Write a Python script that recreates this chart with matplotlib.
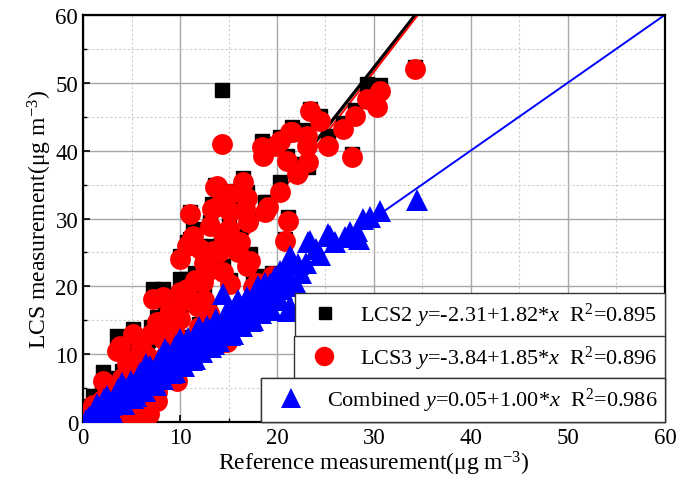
import matplotlib
matplotlib.use("Agg")
import matplotlib.pyplot as plt
from matplotlib.lines import Line2D
import numpy as np

plt.rcParams['font.family'] = 'Liberation Serif'
plt.rcParams['mathtext.fontset'] = 'custom'
plt.rcParams['mathtext.rm'] = 'Liberation Serif'
plt.rcParams['mathtext.it'] = 'Liberation Serif:italic'

# reference value, LCS3 and LCS2 readings (paired)
ref_x = [34.2, 30.6, 29.3, 30.3, 28.0, 26.8, 24.4, 23.4, 25.3, 27.7, 23.1, 23.1, 23.2, 22.2, 22.1,
         21.5, 21.3, 21.0, 20.3, 19.8, 18.5, 18.6, 14.3, 20.3, 21.1, 20.8, 16.5, 15.2, 16.9, 13.6,
         13.8, 16.7, 15.2, 13.3, 13.9, 19.1, 18.8, 11.0, 11.3, 13.1, 14.4, 15.9, 16.2, 13.4, 10.7,
         12.1, 11.0, 16.9, 17.2, 17.5, 17.9, 19.5, 15.2, 13.1, 14.4, 10.7, 10.0, 10.0, 12.4, 11.8,
         10.0, 7.2, 8.2, 7.6, 5.2, 8.2, 6.6, 3.8, 3.5, 4.8, 2.1, 2.5, 1.0, 0.7, 9.7,
         9.5, 7.6, 7.6, 5.2, 3.5, 5.9, 14.8, 14.4, 1.5, 2.0, 3.0, 4.0, 4.5, 5.5, 6.0,
         7.0, 8.5, 9.0, 10.5, 11.5, 12.5, 14.0, 14.5, 15.0, 17.0, 9.0, 8.0, 6.0, 5.0, 4.0,
         3.0, 6.5, 4.5, 8.5, 11.0, 12.0, 13.0, 12.5, 9.5, 7.9, 16.0, 4.2, 6.8]
lcs3_y = [52.0, 48.8, 47.6, 46.4, 45.1, 43.2, 44.4, 45.9, 40.7, 39.1, 42.2, 40.7, 38.3, 36.9, 36.6,
          42.8, 42.8, 38.5, 41.4, 40.7, 40.5, 39.2, 41.0, 33.9, 29.6, 26.7, 35.4, 33.6, 33.0, 34.6,
          34.8, 31.4, 31.0, 31.4, 31.8, 31.7, 31.0, 30.7, 27.4, 28.9, 27.7, 26.0, 26.5, 25.2, 26.0,
          25.5, 26.5, 23.0, 23.8, 19.9, 20.5, 21.5, 20.3, 22.6, 22.1, 19.6, 24.0, 19.2, 20.6, 17.1,
          15.2, 18.1, 18.5, 14.7, 13.0, 12.2, 9.7, 11.2, 10.5, 7.8, 6.0, 5.3, 2.5, 1.5, 6.0,
          6.3, 4.4, 3.1, 1.5, 0.9, 0.4, 11.8, 11.8, 2.5, 3.2, 4.5, 6.5, 8.5, 9.5, 11.0,
          13.0, 15.0, 16.5, 18.0, 21.0, 23.5, 25.0, 26.5, 28.5, 29.5, 10.0, 8.0, 5.0, 4.0, 3.0,
          2.0, 2.0, 0.5, 7.0, 12.0, 14.0, 16.0, 18.0, 13.0, 6.8, 25.0, 0.8, 1.2]
lcs2_y = [52.3, 49.7, 49.8, 47.5, 46.0, 44.1, 45.1, 46.2, 42.2, 39.5, 43.0, 41.0, 37.6, 37.5, 38.0,
          43.5, 42.5, 39.2, 42.0, 41.0, 41.4, 39.5, 48.9, 35.4, 30.3, 27.0, 36.0, 34.0, 33.9, 35.0,
          34.5, 32.0, 31.5, 32.2, 32.6, 32.4, 32.4, 31.0, 28.5, 29.5, 28.0, 26.2, 27.4, 26.0, 26.5,
          26.0, 27.0, 24.0, 24.8, 21.5, 21.5, 22.0, 21.0, 23.5, 23.0, 21.1, 24.5, 21.1, 21.0, 18.0,
          16.5, 19.6, 19.6, 15.5, 13.7, 13.0, 12.2, 12.5, 12.7, 9.0, 7.4, 6.5, 3.8, 2.4, 6.4,
          6.7, 4.8, 3.5, 1.9, 1.3, 0.8, 12.3, 12.3, 3.5, 4.5, 5.5, 7.5, 9.5, 10.5, 12.0,
          14.0, 16.0, 17.0, 19.5, 22.0, 24.5, 26.0, 27.5, 29.0, 30.0, 10.5, 8.5, 5.4, 4.4, 3.4,
          2.4, 2.4, 0.9, 7.4, 12.5, 14.5, 16.5, 19.0, 14.5, 7.2, 26.0, 1.2, 1.6]

# combined (calibrated) data
comb_x = [34.4, 30.6, 29.6, 28.9, 28.2, 27.0, 25.5, 25.3, 24.4, 23.4, 23.2, 22.2, 21.5, 21.3, 20.3,
          22.1, 19.3, 21.3, 21.1, 14.4,
          0.3, 0.6, 1.0, 1.2, 1.5, 1.8, 2.0, 2.3, 2.6, 2.9, 3.2, 3.5, 3.8, 4.1, 4.4,
          4.7, 5.0, 5.3, 5.6, 6.0, 6.3, 6.6, 7.0, 7.3, 7.6, 8.0, 8.3, 8.7, 9.0, 9.4,
          9.8, 10.2, 10.6, 11.0, 11.4, 11.8, 12.2, 12.6, 13.0, 13.4, 13.8, 14.2, 14.6, 15.0, 15.4,
          15.8, 16.2, 16.6, 17.0, 17.5, 18.0, 18.5, 19.0, 19.5, 20.0, 20.5, 21.0, 4.0, 6.5, 8.5,
          10.0, 12.0, 2.5, 5.5, 7.5, 9.5, 11.5, 13.5, 15.5, 17.5, 19.5, 3.0, 16.0, 18.0,
          0.8, 1.4, 2.2, 2.8, 3.6, 4.2, 4.9, 5.2, 5.9, 6.4, 6.9, 7.2, 7.8, 8.2, 8.8,
          9.2, 9.6, 10.4, 10.8, 11.2, 11.7, 12.3, 12.8, 13.2, 13.7, 14.0, 14.8, 15.2, 15.7, 16.4,
          16.9, 17.3, 17.8, 18.3, 18.8, 19.2, 19.8, 20.3, 20.7, 21.5, 22.5, 23.0, 24.0, 26.0, 27.5,
          28.5]
comb_y = [32.8, 31.1, 30.3, 29.9, 28.2, 27.3, 27.4, 27.7, 24.6, 26.7, 26.5, 23.3, 24.0, 24.5, 22.3,
          20.0, 20.3, 17.1, 16.4, 18.9,
          0.3, 0.8, 1.2, 0.7, 1.8, 1.4, 2.4, 1.9, 2.9, 2.5, 3.6, 3.0, 4.2, 3.7, 4.9,
          4.3, 5.5, 4.8, 6.2, 5.4, 6.8, 6.0, 7.5, 6.8, 8.2, 7.3, 8.9, 8.0, 9.6, 8.6,
          10.3, 9.5, 11.2, 10.2, 12.0, 11.0, 12.8, 11.8, 13.5, 12.6, 14.4, 13.4, 15.0, 14.2, 15.9,
          15.0, 16.7, 15.8, 17.6, 16.8, 18.4, 17.7, 19.2, 18.7, 20.6, 19.6, 21.8, 5.8, 8.5, 10.8,
          12.3, 14.0, 3.8, 3.8, 5.5, 7.4, 9.3, 11.5, 13.0, 15.0, 16.5, 1.5, 18.0, 20.0,
          0.2, 2.6, 3.4, 1.3, 4.9, 2.7, 6.1, 3.6, 7.2, 4.6, 8.3, 5.6, 9.2, 6.4, 10.1,
          7.2, 11.3, 8.3, 12.4, 9.1, 13.1, 10.3, 14.2, 11.0, 15.2, 12.0, 16.3, 12.8, 17.1, 14.1,
          18.4, 14.9, 19.2, 16.0, 20.5, 17.1, 21.4, 18.0, 21.0, 20.5, 22.0, 23.5, 25.5, 26.5, 28.0,
          27.0]

fits = {
    "LCS2": (-2.31, 1.82, 0.895),
    "LCS3": (-3.84, 1.85, 0.896),
    "Combined": (0.05, 1.00, 0.986),
}

fig = plt.figure(figsize=(6.76, 4.89), dpi=100)
ax = fig.add_axes([0.1228, 0.135, 0.8609, 0.832])

xx = np.array([0, 60])
a, b, _ = fits["LCS2"]
ax.plot(xx, a + b * xx, color='black', lw=2.4, zorder=2)
a, b, _ = fits["LCS3"]
ax.plot(xx, a + b * xx, color='red', lw=1.4, zorder=2)
a, b, _ = fits["Combined"]
ax.plot(xx, a + b * xx, color='blue', lw=1.4, zorder=2)

ax.plot(ref_x, lcs2_y, ls='none', marker='s', ms=10.5, color='black', zorder=3)
ax.plot(ref_x, lcs3_y, ls='none', marker='o', ms=15, color='red', markeredgewidth=0, zorder=3)
ax.plot(comb_x, comb_y, ls='none', marker='^', ms=16, color='blue', markeredgewidth=0, zorder=3)

ax.set_xlim(0, 60)
ax.set_ylim(0, 60)
ax.set_xticks(range(0, 61, 10))
ax.set_yticks(range(0, 61, 10))
ax.set_xticks(range(5, 60, 10), minor=True)
ax.set_yticks(range(5, 60, 10), minor=True)
ax.tick_params(which='major', direction='in', length=5, width=1.2, labelsize=16.5)
ax.tick_params(which='minor', direction='in', length=3, width=1.0)
ax.grid(which='major', color='#a8a8a8', lw=1.0)
ax.grid(which='minor', color='#cccccc', lw=0.8, ls=(0, (2, 2)))
ax.set_axisbelow(True)
for s in ax.spines.values():
    s.set_linewidth(1.6)

ax.set_xlabel("Reference measurement(\u03bcg m$^{-3}$)", fontsize=17, labelpad=1)
ax.set_ylabel("LCS measurement(\u03bcg m$^{-3}$)", fontsize=17, labelpad=1)

handles = {
    "LCS2": Line2D([], [], ls='none', marker='s', ms=8.5, color='black'),
    "LCS3": Line2D([], [], ls='none', marker='o', ms=14, color='red', markeredgewidth=0),
    "Combined": Line2D([], [], ls='none', marker='^', ms=15, color='blue', markeredgewidth=0),
}
anchors = {"LCS2": 0.209, "LCS3": 0.103, "Combined": 0.0}
for name in ["LCS2", "LCS3", "Combined"]:
    a, b, r2 = fits[name]
    lab = f"{name} $y$={a:.2f}+{b:.2f}*$x$  R$^2$={r2:.3f}"
    leg = ax.legend([handles[name]], [lab], loc='lower right', bbox_to_anchor=(1, anchors[name]),
                    borderaxespad=0, fontsize=16, fancybox=False, framealpha=1,
                    edgecolor='#333333', handletextpad=0.6, borderpad=0.35)
    leg.get_frame().set_linewidth(1.0)
    ax.add_artist(leg)

fig.savefig("out.png", dpi=100)
